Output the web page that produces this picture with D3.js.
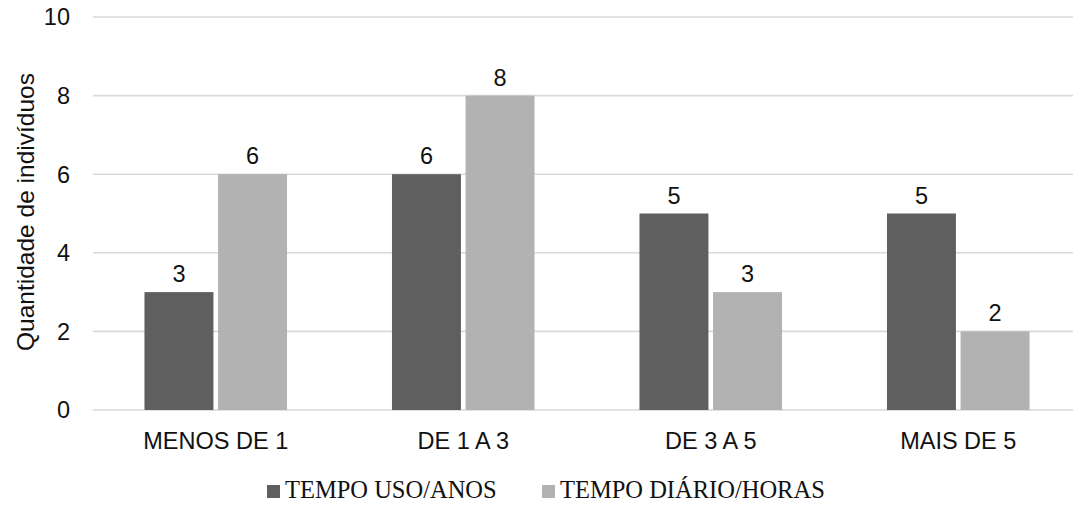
<!DOCTYPE html>
<html>
<head>
<meta charset="utf-8">
<script src="https://cdn.jsdelivr.net/npm/d3@7"></script>
<style>
  html, body { margin: 0; padding: 0; background: #fff; }
  svg { display: block; }
</style>
</head>
<body>
<svg id="chart" width="1073" height="506"></svg>
<script>
// Categories and series values
const categories = ["MENOS DE 1", "DE 1 A 3", "DE 3 A 5", "MAIS DE 5"];
const seriesNames = ["TEMPO USO/ANOS", "TEMPO DIÁRIO/HORAS"];
const usoAnos = [3, 6, 5, 5];
const diarioHoras = [6, 8, 3, 2];
const yTicks = [0, 2, 4, 6, 8, 10];
const colors = ["#5f5f5f", "#b2b2b2"];

const seriesValues = [usoAnos, diarioHoras];
const sans = "Liberation Sans, Arial, sans-serif";

const svg = d3.select("#chart");

const x0 = d3.scaleBand()
  .domain(categories)
  .range([92, 1082])
  .paddingInner(0.424)
  .paddingOuter(0.212);

const x1 = d3.scaleBand()
  .domain(seriesNames)
  .range([0, x0.bandwidth()])
  .paddingInner(0.063);

const y = d3.scaleLinear().domain([0, 10]).range([410, 17]);

// Horizontal gridlines
svg.append("g")
  .selectAll("line")
  .data(yTicks)
  .join("line")
  .attr("x1", 93)
  .attr("x2", 1073)
  .attr("y1", d => y(d))
  .attr("y2", d => y(d))
  .attr("stroke", "#d9d9d9")
  .attr("stroke-width", 1.6);

// Y tick labels
svg.append("g")
  .selectAll("text")
  .data(yTicks)
  .join("text")
  .attr("x", 70)
  .attr("y", d => y(d))
  .attr("dy", "0.36em")
  .attr("text-anchor", "end")
  .attr("font-family", sans)
  .attr("font-size", 23.5)
  .attr("fill", "#111")
  .text(d => d);

// Y axis title
svg.append("text")
  .attr("transform", "translate(34,212) rotate(-90)")
  .attr("text-anchor", "middle")
  .attr("font-family", sans)
  .attr("font-size", 24.5)
  .attr("fill", "#111")
  .text("Quantidade de indivíduos");

// Bars and value labels
const groups = svg.append("g")
  .selectAll("g")
  .data(categories)
  .join("g")
  .attr("transform", d => `translate(${x0(d)},0)`);

const cells = (c, i) => seriesNames.map((s, k) => ({ s, v: seriesValues[k][i], k }));

groups.selectAll("rect")
  .data(cells)
  .join("rect")
  .attr("x", d => x1(d.s))
  .attr("width", x1.bandwidth())
  .attr("y", d => y(d.v))
  .attr("height", d => y(0) - y(d.v))
  .attr("fill", d => colors[d.k]);

groups.selectAll("text")
  .data(cells)
  .join("text")
  .attr("x", d => x1(d.s) + x1.bandwidth() / 2)
  .attr("y", d => y(d.v) - 10)
  .attr("text-anchor", "middle")
  .attr("font-family", sans)
  .attr("font-size", 23.5)
  .attr("fill", "#111")
  .text(d => d.v);

// Category labels
svg.append("g")
  .selectAll("text")
  .data(categories)
  .join("text")
  .attr("x", d => x0(d) + x0.bandwidth() / 2)
  .attr("y", 449)
  .attr("text-anchor", "middle")
  .attr("font-family", sans)
  .attr("font-size", 23.5)
  .attr("fill", "#111")
  .text(d => d);

// Legend
const legendX = [267, 542];
const legend = svg.append("g")
  .selectAll("g")
  .data(seriesNames)
  .join("g")
  .attr("transform", (d, i) => `translate(${legendX[i]},485)`);

legend.append("rect")
  .attr("width", 13)
  .attr("height", 13)
  .attr("fill", (d, i) => colors[i]);

legend.append("text")
  .attr("x", 18)
  .attr("y", 13)
  .attr("font-family", "Liberation Serif, Times New Roman, serif")
  .attr("font-size", 24.5)
  .attr("fill", "#111")
  .text(d => d);
</script>
</body>
</html>
